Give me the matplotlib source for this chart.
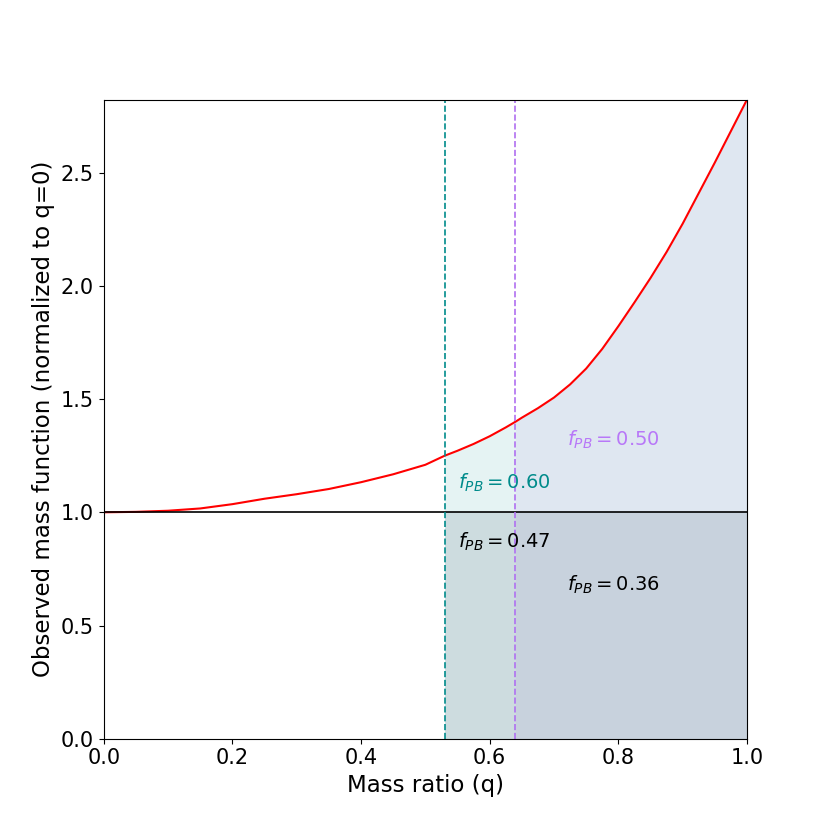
import numpy as np
import matplotlib
matplotlib.use("Agg")
import matplotlib.pyplot as plt

# --- Data ---
q = [0.0, 0.05, 0.10, 0.15, 0.20, 0.25, 0.30, 0.35, 0.40, 0.45, 0.50,
     0.53, 0.55, 0.575, 0.60, 0.625, 0.64, 0.65, 0.675, 0.70, 0.725, 0.75,
     0.775, 0.80, 0.825, 0.85, 0.875, 0.90, 0.925, 0.95, 0.975, 1.0]
mass_fn = [1.000, 1.002, 1.007, 1.017, 1.036, 1.060, 1.080, 1.103, 1.133, 1.168, 1.210,
           1.250, 1.272, 1.302, 1.336, 1.375, 1.400, 1.418, 1.460, 1.507, 1.565, 1.635,
           1.722, 1.822, 1.927, 2.035, 2.150, 2.275, 2.410, 2.545, 2.684, 2.823]
q_cut_teal = 0.53
q_cut_purple = 0.64
labels = {
    "teal_top": r"$f_{PB} = 0.60$",
    "purple_top": r"$f_{PB} = 0.50$",
    "teal_bottom": r"$f_{PB} = 0.47$",
    "purple_bottom": r"$f_{PB} = 0.36$",
}

q = np.array(q)
mass_fn = np.array(mass_fn)

fig, ax = plt.subplots(figsize=(8.3, 8.3), dpi=100)

# --- Shaded regions ---
m1 = (q >= q_cut_teal) & (q <= q_cut_purple)
ax.fill_between(q[m1], 0, mass_fn[m1], color="darkcyan", alpha=0.1, linewidth=0)
m2 = q >= q_cut_purple
ax.fill_between(q[m2], 0, mass_fn[m2], color="lightsteelblue", alpha=0.4, linewidth=0)
m3 = q >= q_cut_teal
ax.fill_between(q[m3], 0, 1, color="slategray", alpha=0.2, linewidth=0)

# --- Lines ---
ax.plot(q, mass_fn, color="red", linewidth=1.5)
ax.axhline(1.0, color="black", linewidth=1.2)
ax.axvline(q_cut_teal, color="darkcyan", linestyle="--", linewidth=1.2)
ax.axvline(q_cut_purple, color="#b070f0", linestyle="--", linewidth=1.2)

# --- Labels ---
ax.text(0.55, 1.13, labels["teal_top"], color="darkcyan", fontsize=14, va="center")
ax.text(0.72, 1.32, labels["purple_top"], color="#b878f8", fontsize=14, va="center")
ax.text(0.55, 0.87, labels["teal_bottom"], color="black", fontsize=14, va="center")
ax.text(0.72, 0.68, labels["purple_bottom"], color="black", fontsize=14, va="center")

ax.set_xlim(0, 1)
ax.set_ylim(0, mass_fn.max())
ax.set_xlabel("Mass ratio (q)", fontsize=16.5)
ax.set_ylabel("Observed mass function (normalized to q=0)", fontsize=16.5)
ax.tick_params(labelsize=15)

plt.savefig("out.png", dpi=100)
plt.close()
